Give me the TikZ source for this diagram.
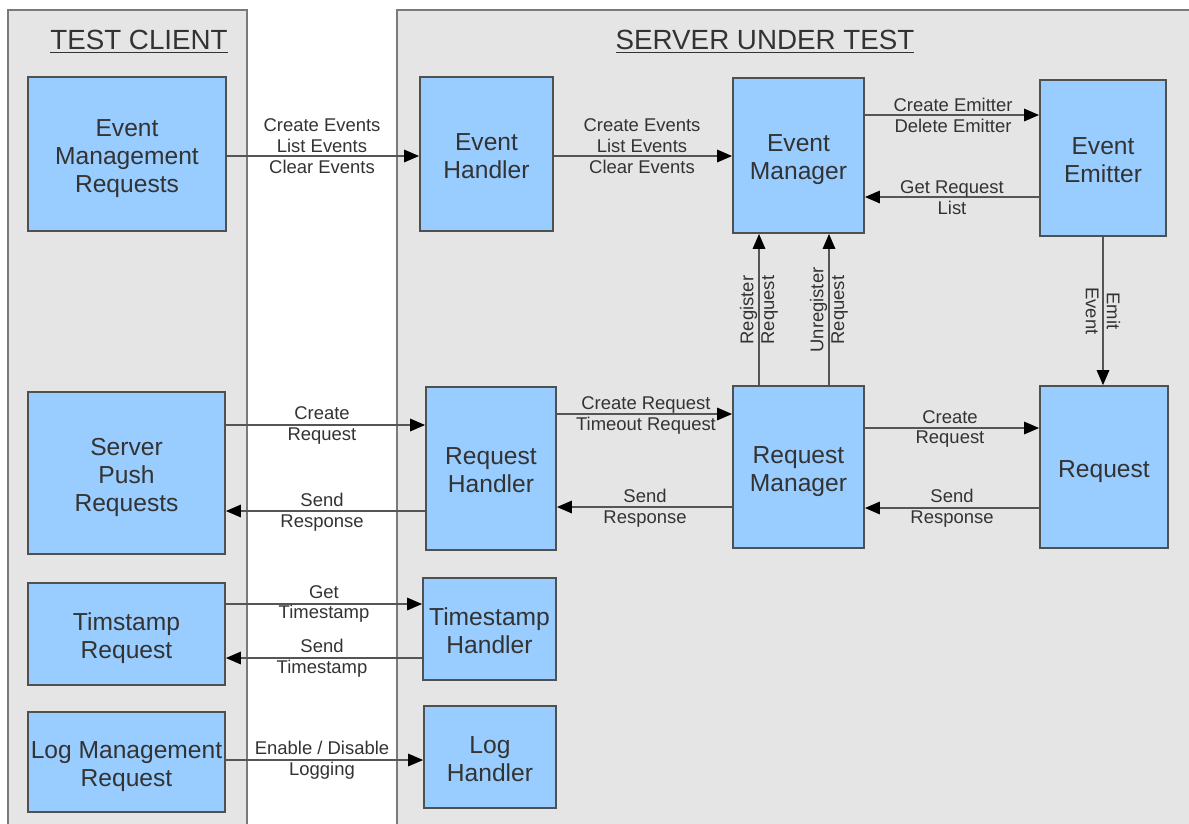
\documentclass[tikz,border=0pt]{standalone}
\usepackage{fontspec}
\setmainfont{Liberation Sans}
\usetikzlibrary{arrows.meta}
\definecolor{panelfill}{HTML}{E5E5E5}
\definecolor{paneledge}{HTML}{7A7A7A}
\definecolor{boxfill}{HTML}{99CCFF}
\definecolor{boxedge}{HTML}{505050}
\definecolor{txt}{HTML}{333333}
\definecolor{wire}{HTML}{555555}
\newcommand\btop{\rule{0pt}{14.8pt}}
\newcommand\bbot{\rule[-3pt]{0pt}{0pt}}
\tikzset{
  panel/.style={fill=panelfill,draw=paneledge,line width=1.1pt},
  box/.style={draw=boxedge,fill=boxfill,line width=1pt,inner sep=0pt,align=center,text=txt,
    font=\fontsize{14}{15.9}\selectfont},
  lbl/.style={inner sep=0pt,align=center,text=txt,font=\fontsize{10.5}{11.9}\selectfont},
  ttl/.style={inner sep=0pt,text=txt,font=\fontsize{15.8}{18}\selectfont},
  arr/.style={draw=wire,line width=1.1pt,-{Triangle[length=8.5pt,width=7pt,black]}}
}
\begin{document}
\begin{tikzpicture}[x=0.02cm,y=-0.02cm]
\useasboundingbox (0,0) rectangle (1189,823);
\fill[white] (0,0) rectangle (1189,823);
% panels
\draw[panel] (8,10) rectangle (247,850);
\draw[panel] (397,10) rectangle (1220,850);
\node[ttl] (tc) at (139,42) {\underline{TEST CLIENT}};
\node[ttl] (sut) at (765,42) {\underline{SERVER UNDER TEST}};
% client boxes
\node[box,minimum width=3.96cm,minimum height=3.08cm] (emr) at (127,154) {\btop Event\\Management\\Requests\bbot};
\node[box,minimum width=3.94cm,minimum height=3.24cm] (spr) at (126.5,473) {\btop Server\\Push\\Requests\bbot};
\node[box,minimum width=3.94cm,minimum height=2.04cm] (tr) at (126.5,634) {\btop Timstamp\\Request\bbot};
\node[box,minimum width=3.94cm,minimum height=2.0cm] (lmr) at (126.5,762) {\btop Log Management\\Request\bbot};
% server boxes
\node[box,minimum width=2.66cm,minimum height=3.08cm] (eh) at (486.5,154) {\btop Event\\Handler\bbot};
\node[box,minimum width=2.6cm,minimum height=3.26cm] (rh) at (491,468.5) {\btop Request\\Handler\bbot};
\node[box,minimum width=2.66cm,minimum height=2.04cm] (th) at (489.5,629) {\btop Timestamp\\Handler\bbot};
\node[box,minimum width=2.64cm,minimum height=2.04cm] (lh) at (490,757) {\btop Log\\Handler\bbot};
\node[box,minimum width=2.62cm,minimum height=3.1cm] (em) at (798.5,155.5) {\btop Event\\Manager\bbot};
\node[box,minimum width=2.52cm,minimum height=3.12cm] (ee) at (1103,158) {\btop Event\\Emitter\bbot};
\node[box,minimum width=2.62cm,minimum height=3.24cm] (rm) at (798.5,467) {\btop Request\\Manager\bbot};
\node[box,minimum width=2.56cm,minimum height=3.24cm] (req) at (1104,467) {\btop Request\bbot};
% connectors
\draw[arr] (emr.east |- 0,156) -- (eh.west |- 0,156);
\draw[arr] (eh.east |- 0,156) -- (em.west |- 0,156);
\draw[arr] (em.east |- 0,115) -- (ee.west |- 0,115);
\draw[arr] (ee.west |- 0,197) -- (em.east |- 0,197);
\draw[arr] (rm.north -| 759,0) -- (em.south -| 759,0);
\draw[arr] (rm.north -| 829,0) -- (em.south -| 829,0);
\draw[arr] (ee.south) -- (ee.south |- req.north);
\draw[arr] (spr.east |- 0,425) -- (rh.west |- 0,425);
\draw[arr] (rh.west |- 0,511) -- (spr.east |- 0,511);
\draw[arr] (rh.east |- 0,414) -- (rm.west |- 0,414);
\draw[arr] (rm.west |- 0,507) -- (rh.east |- 0,507);
\draw[arr] (rm.east |- 0,428) -- (req.west |- 0,428);
\draw[arr] (req.west |- 0,508) -- (rm.east |- 0,508);
\draw[arr] (tr.east |- 0,604) -- (th.west |- 0,604);
\draw[arr] (th.west |- 0,658) -- (tr.east |- 0,658);
\draw[arr] (lmr.east |- 0,760) -- (lh.west |- 0,760);
% labels
\node[lbl] (l1) at (322,146) {Create Events\\List Events\\Clear Events};
\node[lbl] (l2) at (642,146) {Create Events\\List Events\\Clear Events};
\node[lbl] (l3) at (953,115.5) {Create Emitter\\Delete Emitter};
\node[lbl] (l4) at (952,197.5) {Get Request\\List};
\node[lbl,rotate=90] (l5) at (759,310) {Register\\Request};
\node[lbl,rotate=90] (l6) at (829,310) {Unregister\\Request};
\node[lbl,rotate=-90] (l7) at (1103,311) {Emit\\Event};
\node[lbl] (l8) at (322,425.5) {Create\\Request};
\node[lbl] (l9) at (322,512) {Send\\Response};
\node[lbl] (l10) at (646,415.5) {Create Request\\Timeout Request};
\node[lbl] (l11) at (645,508) {Send\\Response};
\node[lbl] (l12) at (950,429) {Create\\Request};
\node[lbl] (l13) at (952,508) {Send\\Response};
\node[lbl] (l14) at (324,604) {Get\\Timestamp};
\node[lbl] (l15) at (322,658.5) {Send\\Timestamp};
\node[lbl] (l16) at (322,760.5) {Enable / Disable\\Logging};
\end{tikzpicture}
\end{document}
